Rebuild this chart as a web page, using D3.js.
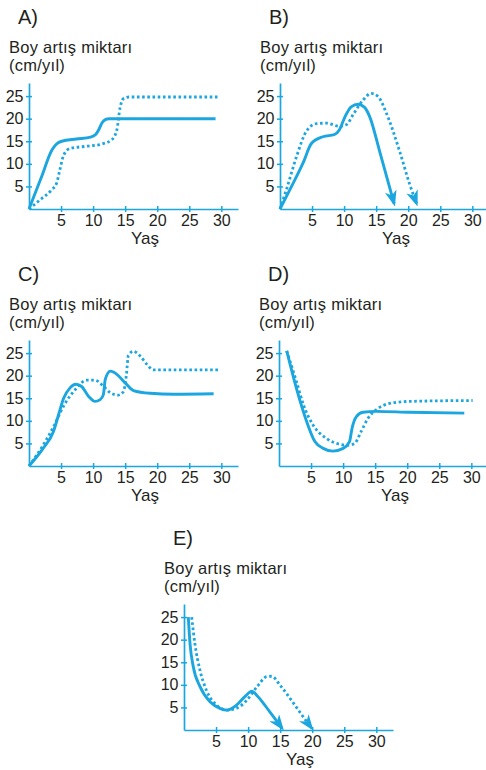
<!DOCTYPE html>
<html lang="tr">
<head>
<meta charset="UTF-8">
<title>Boy artış miktarı</title>
<script src="https://d3js.org/d3.v7.min.js"></script>
<style>
    body { margin: 0; background: #fff; }
    svg text { font-family: "Liberation Sans", Arial, sans-serif; fill: #231f20; }
    .solid { fill: none; stroke: #1ba6df; stroke-width: 2.9; stroke-linejoin: round; }
    .dotted { fill: none; stroke: #1ba6df; stroke-width: 2.8; stroke-dasharray: 2.6 2.6; }
</style>
</head>
<body>
<svg width="486" height="770"></svg>
<script>
    // tick labels
    var ageTicks = [5, 10, 15, 20, 25, 30];
    var rateTicks = [5, 10, 15, 20, 25];
    var panelLabels = ["A)", "B)", "C)", "D)", "E)"];

    // [yaş, cm/yıl]
    var aSolid = [[0,0],[1.9,6.9],[3.6,13.1],[4.3,14.4],[5.1,15],[7.4,15.5],[9.6,15.9],[10.4,16.5],[10.9,17.6],[11.4,19.1],[11.9,19.8],[12.5,20],[29.1,20]];
    var aDotted = [[0,0],[1.7,2],[3.5,4.2],[4.3,5.7],[4.8,8.6],[5.4,11.9],[6.4,13.4],[9,13.9],[11.4,14.4],[12.9,15.3],[13.7,17.5],[14.2,22.4],[14.7,24.4],[15.6,24.8],[29.4,24.8]];

    var bSolid = [[0,0],[1.8,5],[3.6,10.2],[4.9,14.5],[6.7,16],[8.5,16.5],[9.3,17.6],[10.1,20.3],[11.1,22.6],[12.2,23.2],[13.2,22.5],[14,20.4],[15.5,13],[17.8,1.2]];
    var bDotted = [[0,0],[1,4.3],[2.6,11.7],[4.1,17.2],[5.7,18.9],[7.3,19],[9.3,18.3],[10.4,18.7],[11.4,20.9],[13,24.2],[14.2,25.6],[15.3,24.9],[16.6,21.2],[18.7,12.6],[20.2,5.6],[21.3,1.2]];

    var cSolid = [[0,0],[2.2,3.9],[3.8,7.6],[4.6,11.3],[5.4,15],[6.4,17.3],[7.3,18.1],[8.2,17.6],[9.3,15.4],[10.3,14.3],[11.1,14.7],[11.6,15.8],[11.9,19.2],[12.7,21],[13.7,20.3],[15,18.4],[16.3,16.7],[18.9,16.1],[22.6,15.9],[28.8,16]];
    var cDotted = [[0,0],[2.2,4.6],[3.8,8.6],[5.4,13.3],[7.2,16.9],[9,19],[10.3,19],[11.6,17.7],[12.7,16.2],[13.9,15.7],[14.7,16.4],[15.2,20.3],[15.5,24.5],[16.3,25.4],[17.3,24.4],[18.4,22.5],[19.4,21.3],[29.8,21.3]];

    var dSolid = [[1.2,25.5],[2.7,17.3],[4.3,9.9],[5.6,5.4],[6.9,3.9],[8.4,3.3],[10,3.9],[11,5.4],[11.4,8.4],[12.1,11],[13.1,11.9],[15.2,12.1],[20.3,11.9],[28.9,11.7]];
    var dDotted = [[1.2,25.5],[2.7,18.8],[3.8,13.6],[5.3,9.1],[7.4,6.1],[9.5,4.8],[10.8,4.6],[11.8,5],[12.8,7.6],[13.9,10.6],[15.2,12.5],[17.8,14],[20.3,14.3],[30.2,14.5]];

    var eSolid = [[0.67,25],[0.94,19.1],[1.45,14],[2.5,9.6],[4.1,6.2],[5.6,4.8],[6.7,4.4],[8.2,5.5],[9.5,7.4],[10.6,8.6],[11.4,7.6],[13.5,3.8],[15.3,0.4]];
    var eDotted = [[1.2,25],[1.7,19.1],[2.5,13.2],[3.5,8.8],[5.1,5.5],[6.7,4.4],[8.2,4.8],[9.8,6.6],[11.4,9.6],[12.9,11.8],[13.7,11.9],[15,9.9],[17.1,5.9],[18.6,2.9],[19.9,0.4]];

    var panels = [
        { label: panelLabels[0], ox: 29,  oy: 209, solid: aSolid, dotted: aDotted, arrow: false },
        { label: panelLabels[1], ox: 280, oy: 209, solid: bSolid, dotted: bDotted, arrow: true },
        { label: panelLabels[2], ox: 29,  oy: 466, solid: cSolid, dotted: cDotted, arrow: false },
        { label: panelLabels[3], ox: 279, oy: 466, solid: dSolid, dotted: dDotted, arrow: false },
        { label: panelLabels[4], ox: 184, oy: 730, solid: eSolid, dotted: eDotted, arrow: true }
    ];

    var blue = "#1ba6df";
    var svg = d3.select("svg");

    svg.append("defs").append("marker")
        .attr("id", "arrow")
        .attr("viewBox", "0 0 16 12")
        .attr("refX", 13)
        .attr("refY", 6)
        .attr("markerWidth", 16)
        .attr("markerHeight", 12)
        .attr("markerUnits", "userSpaceOnUse")
        .attr("orient", "auto")
        .append("path")
        .attr("d", "M0,0 L16,6 L0,12 L4.5,6 Z")
        .attr("fill", blue);

    var x = d3.scaleLinear().domain([0, 32.6]).range([0, 209]);
    var y = d3.scaleLinear().domain([0, 27.9]).range([0, -126]);

    var line = d3.line()
        .x(function(d) { return x(d[0]); })
        .y(function(d) { return y(d[1]); })
        .curve(d3.curveMonotoneX);

    panels.forEach(function(p) {
        var g = svg.append("g").attr("transform", "translate(" + p.ox + "," + p.oy + ")");

        g.append("text").attr("x", -11).attr("y", -185)
            .attr("font-size", "20px").text(p.label);
        g.append("text").attr("x", -20).attr("y", -156.5)
            .attr("font-size", "16.5px").attr("letter-spacing", "0.25px").text("Boy artış miktarı");
        g.append("text").attr("x", -20).attr("y", -138)
            .attr("font-size", "16.5px").attr("letter-spacing", "0.25px").text("(cm/yıl)");

        var xAxis = g.append("g")
            .call(d3.axisBottom(x).tickValues(ageTicks).tickSize(3).tickSizeOuter(0).tickPadding(3));
        var yAxis = g.append("g")
            .call(d3.axisLeft(y).tickValues(rateTicks).tickSize(3).tickSizeOuter(0).tickPadding(2.5));

        [xAxis, yAxis].forEach(function(a) {
            a.attr("font-family", null).attr("font-size", null);
            a.select(".domain").attr("stroke", blue).attr("stroke-width", 1.7);
            a.selectAll(".tick line").attr("stroke", blue).attr("stroke-width", 1.5);
            a.selectAll(".tick text").attr("font-size", "16px").attr("fill", "#231f20");
        });
        xAxis.selectAll(".tick line").attr("y1", -3).attr("y2", 3);
        yAxis.selectAll(".tick line").attr("x1", 3).attr("x2", -3);

        g.append("text").attr("x", 116).attr("y", 35)
            .attr("text-anchor", "middle").attr("font-size", "17px").text("Yaş");

        var s = g.append("path").datum(p.solid).attr("class", "solid").attr("d", line);
        var dt = g.append("path").datum(p.dotted).attr("class", "dotted").attr("d", line);
        if (p.arrow) {
            s.attr("marker-end", "url(#arrow)");
            dt.attr("marker-end", "url(#arrow)");
        }
    });
</script>
</body>
</html>
